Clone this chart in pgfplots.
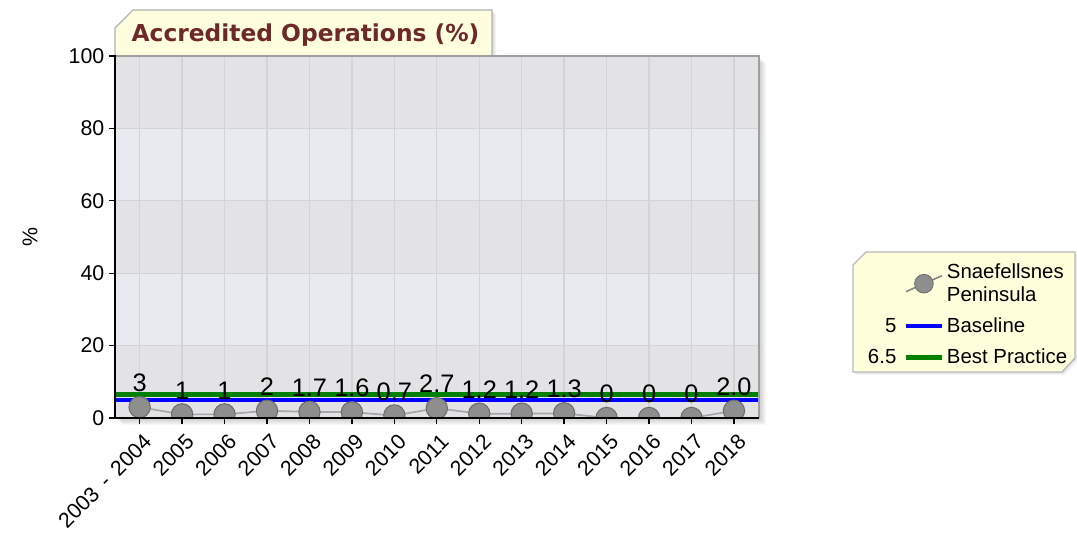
\documentclass[border=0pt]{standalone}
\usepackage{fontspec}
\setmainfont{Liberation Sans}
\newfontfamily\titlefont{DejaVu Sans}
\usepackage{pgfplots}
\pgfplotsset{compat=1.18}
\definecolor{banddark}{HTML}{E3E3E5}
\definecolor{bandlight}{HTML}{E7EAEE}
\definecolor{gridc}{HTML}{D4D4D6}
\definecolor{titlebg}{HTML}{FFFFDF}
\definecolor{titlefg}{HTML}{6E2828}
\definecolor{legbg}{HTML}{FFFFDC}
\definecolor{linec}{HTML}{A8A8A8}
\definecolor{markfill}{HTML}{8E8E8E}
\definecolor{markedge}{HTML}{6A6A6A}
\definecolor{bestgreen}{HTML}{008000}
\definecolor{baseblue}{HTML}{0000FF}
\begin{document}
\begin{tikzpicture}
\begin{scope}[x=0.75pt,y=0.75pt]
\path[use as bounding box] (0,0) rectangle (1077,546);
% shadow of plot area
\foreach \i in {1,...,7} {\fill[black,opacity=0.03] (115+\i,128-\i) rectangle (759+\i,490-\i);}
% bands
\fill[banddark]  (115,128)   rectangle (759,200.4);
\fill[bandlight] (115,200.4) rectangle (759,272.8);
\fill[banddark]  (115,272.8) rectangle (759,345.2);
\fill[bandlight] (115,345.2) rectangle (759,417.6);
\fill[banddark]  (115,417.6) rectangle (759,490);
% title tab
\foreach \i in {1,...,4} {\fill[black,opacity=0.04] (115+\i,490) -- (115+\i,518) -- (133+\i,536-\i) -- (492+\i,536-\i) -- (492+\i,490) -- cycle;}
\filldraw[fill=titlebg, draw=gray!60, line width=1pt] (115,490) -- (115,518) -- (133,536) -- (492,536) -- (492,490);
\node[font=\titlefont\bfseries\fontsize{17.5}{20}\selectfont, text=titlefg] at (305.5,511) {Accredited Operations (\%)};
% legend box
\foreach \i in {1,...,3} {\fill[black,opacity=0.04] (853+\i,281-\i) -- (866+\i,294-\i) -- (1075+\i,294-\i) -- (1075+\i,188-\i) -- (1062+\i,174-\i) -- (853+\i,174-\i) -- cycle;}
\filldraw[fill=legbg, draw=gray!55, line width=1pt] (853,281) -- (866,294) -- (1075,294) -- (1075,188) -- (1062,174) -- (853,174) -- cycle;
\end{scope}
\begin{axis}[at={(86.25pt,96pt)}, anchor=south west, scale only axis,
  width=483pt, height=271.5pt,
  xmin=-0.58, xmax=14.59, ymin=0, ymax=100,
  clip marker paths=true,
  xtick={0,...,14},
  xticklabels={2003\hspace{0.45em}-\hspace{0.45em}2004,2005,2006,2007,2008,2009,2010,2011,2012,2013,2014,2015,2016,2017,2018},
  x tick label style={yshift=-5pt, xshift=2pt, rotate=45, anchor=north east, font=\fontsize{16}{18}\selectfont, inner sep=1pt},
  ytick={0,20,...,100},
  y tick label style={font=\fontsize{16}{18}\selectfont},
  /pgf/number format/assume math mode=true,
  tick align=outside, tick pos=left, major tick length=4.5pt,
  tick style={black, line width=1pt},
  grid=major, major grid style={color=gridc, line width=1pt},
  axis line style={draw=none},
  legend style={at={(rel axis cs:1.1626,0.441)}, anchor=north west, draw=none, fill=none,
    font=\fontsize{15.3}{17}\selectfont, cells={anchor=west, align=left}, row sep=6.75pt},
  legend cell align=left,
]
\addlegendimage{legend image code/.code={\draw[linec!80!black, line width=1.2pt] (0pt,-6pt) -- (27pt,6pt); \draw[fill=markfill, draw=markedge, line width=0.6pt] (13.5pt,0pt) circle (7pt);}}
\addlegendentry{Snaefellsnes\\Peninsula}
\addlegendimage{legend image code/.code={\draw[baseblue, line width=3.5pt] (0pt,0pt) -- (27pt,0pt); \node[anchor=east, inner sep=0pt, font=\fontsize{15.3}{17}\selectfont] at (-7pt,0pt) {5};}}
\addlegendentry{Baseline}
\addlegendimage{legend image code/.code={\draw[bestgreen, line width=3.5pt] (0pt,0pt) -- (27pt,0pt); \node[anchor=east, inner sep=0pt, font=\fontsize{15.3}{17}\selectfont] at (-7pt,0pt) {6.5};}}
\addlegendentry{Best Practice}
\addplot[bestgreen, line width=3.5pt, forget plot] coordinates {(-0.58,6.5) (14.59,6.5)};
\addplot[baseblue, line width=3.5pt, forget plot] coordinates {(-0.58,5) (14.59,5)};
\addplot[linec, line width=1.3pt, mark=*, mark size=8pt,
  mark options={fill=markfill, draw=markedge, line width=0.75pt},
  nodes near coords, point meta=explicit symbolic,
  nodes near coords style={anchor=base, yshift=11.5pt, inner sep=0pt, text=black, font=\fontsize{19}{20}\selectfont},
  forget plot]
coordinates {
(0,3) [3]
(1,1) [1]
(2,1) [1]
(3,2) [2]
(4,1.7) [1.7]
(5,1.6) [1.6]
(6,0.7) [0.7]
(7,2.7) [2.7]
(8,1.2) [1.2]
(9,1.2) [1.2]
(10,1.3) [1.3]
(11,0) [0]
(12,0) [0]
(13,0) [0]
(14,2.0) [2.0]
};
\end{axis}
\begin{scope}[x=0.75pt,y=0.75pt]
% spines
\draw[gray!75, line width=1.5pt] (115,490) -- (759,490) -- (759,128);
\draw[black, line width=1.5pt] (115,491) -- (115,128) -- (759,128);
\node[rotate=90, font=\fontsize{16}{18}\selectfont] at (30,309) {\%};
\end{scope}
\end{tikzpicture}
\end{document}
